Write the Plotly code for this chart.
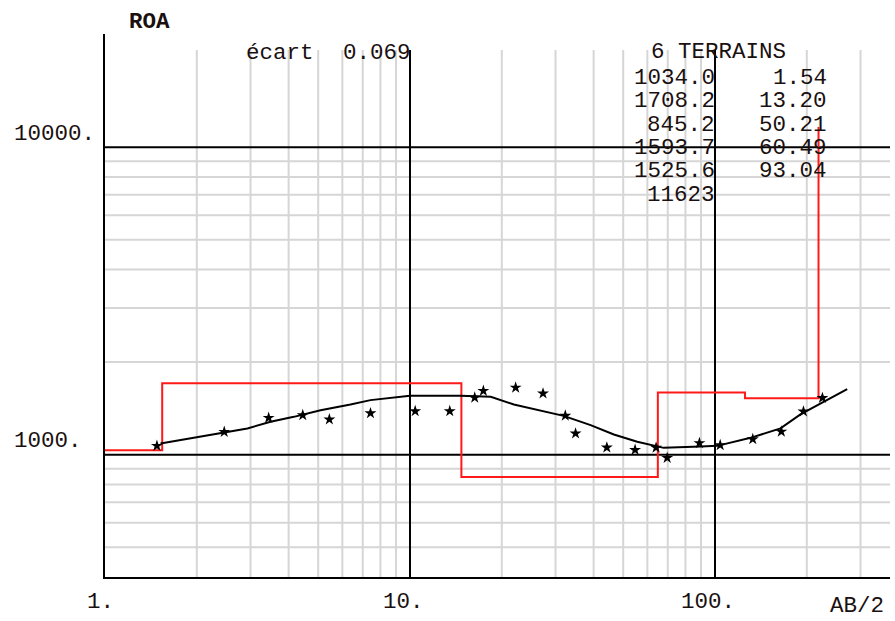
import numpy as np
import plotly.graph_objects as go

# Field sounding: half electrode spacing AB/2 (m) and apparent resistivity (ohm.m)
ab2 = [1.48, 2.46, 3.44, 4.45, 5.44, 7.42, 10.4, 13.5, 16.3, 17.4, 22.2, 27.3,
       32.3, 34.9, 44.2, 54.7, 64.1, 69.7, 88.9, 104, 133, 165, 195, 225]
rho_a = [1068, 1186, 1317, 1344, 1302, 1364, 1385, 1385, 1532, 1612, 1652, 1581,
         1339, 1172, 1055, 1036, 1054, 976, 1090, 1074, 1123, 1188, 1382, 1529]

# Response curve of the fitted model
fit_ab2 = [1.52, 2.0, 2.45, 2.93, 3.49, 4.16, 5.09, 5.49, 6.38, 7.42, 8.2, 9.3,
           10.0, 14.6, 18.4, 21.9, 26.8, 31.9, 39.1, 46.6, 55.6, 64.6, 67.9,
           89.7, 101.7, 130.8, 164, 190.6, 221.8, 271.3]
fit_rho = [1087, 1137, 1181, 1217, 1279, 1327, 1395, 1413, 1456, 1504, 1523, 1545,
           1553, 1553, 1542, 1456, 1395, 1337, 1247, 1163, 1101, 1064, 1052,
           1062, 1068, 1134, 1217, 1351, 1467, 1633]

# Layered model: resistivities and thicknesses
layer_res = [1034.0, 1708.2, 845.2, 1593.7, 1525.6, 11623]
layer_thk = [1.54, 13.20, 50.21, 60.49, 93.04]
ecart = 0.069

# Axis labels and grid values
x_major = [1, 10, 100]
x_major_text = ["1.", "10.", "100."]
y_major = [1000, 10000]
y_major_text = ["1000.", "10000."]
x_minor = [m * d for d in (1, 10, 100) for m in range(2, 10) if m * d < 376]
y_minor = [m * d for d in (100, 1000) for m in range(2, 10) if m * d > 400]

# plot-area geometry (pixels)
W, H = 895, 621
ML, MR, MT, MB = 105, 5, 34, 44
XR = [0.0, (W - ML - MR) / 305.0]
YR = [np.log10(400), np.log10(400) + (H - MT - MB) / 307.5]
X_MIN, X_MAX = 10 ** XR[0], 10 ** XR[1]
Y_MIN = 10 ** YR[0]
GRID_TOP = 2.07e4

FONT = "Liberation Mono"
FS = 22.5
TXT = "#1a1010"


def px(x):
    return (x - ML) / (W - ML - MR)


def py(y):
    return (H - MB - y) / (H - MT - MB)


def segs_v(xs, y0, y1):
    xx, yy = [], []
    for v in xs:
        xx += [v, v, None]
        yy += [y0, y1, None]
    return xx, yy


def segs_h(ys, x0, x1):
    xx, yy = [], []
    for v in ys:
        xx += [x0, x1, None]
        yy += [v, v, None]
    return xx, yy


fig = go.Figure()

# light grid
gx, gy = segs_v(x_minor, Y_MIN, GRID_TOP)
fig.add_trace(go.Scatter(x=gx, y=gy, mode="lines",
                         line=dict(color="#d6d6d6", width=2), hoverinfo="skip"))
gx, gy = segs_h(y_minor, X_MIN, X_MAX)
fig.add_trace(go.Scatter(x=gx, y=gy, mode="lines",
                         line=dict(color="#d6d6d6", width=2), hoverinfo="skip"))

# decade lines
gx, gy = segs_v(x_major[1:], Y_MIN, GRID_TOP)
fig.add_trace(go.Scatter(x=gx, y=gy, mode="lines",
                         line=dict(color="black", width=2), hoverinfo="skip"))
gx, gy = segs_h(y_major, X_MIN, X_MAX)
fig.add_trace(go.Scatter(x=gx, y=gy, mode="lines",
                         line=dict(color="black", width=2), hoverinfo="skip"))

# model as a step profile
depths = np.cumsum(layer_thk)
sx, sy = [X_MIN], [layer_res[0]]
for i, d in enumerate(depths):
    sx += [d, d]
    sy += [layer_res[i], layer_res[i + 1]]
fig.add_trace(go.Scatter(x=sx, y=sy, mode="lines",
                         line=dict(color="#ff1a1a", width=2), hoverinfo="skip"))

# fitted curve
fig.add_trace(go.Scatter(x=fit_ab2, y=fit_rho, mode="lines",
                         line=dict(color="black", width=2), hoverinfo="skip"))

# measured points
fig.add_trace(go.Scatter(x=ab2, y=rho_a, mode="markers",
                         marker=dict(symbol="star", size=9, color="black",
                                     line=dict(width=0)),
                         hoverinfo="skip"))

ann = []


def label(text, x, y, xanchor="left", yanchor="middle", bold=False):
    t = f"<b>{text}</b>" if bold else text
    ann.append(dict(text=t, x=px(x), y=py(y), xref="paper", yref="paper",
                    xanchor=xanchor, yanchor=yanchor, showarrow=False,
                    font=dict(family=FONT, size=FS, color=TXT)))


label("ROA", 127, 22, bold=True)
label("AB/2", 828, 621, yanchor="bottom")
label(y_major_text[1], 12, 134)
label(y_major_text[0], 12, 441)
for v, t, left in zip(x_major, x_major_text, [85, 381, 679]):
    label(t, left, 602)

label("écart", 244, 53)
label(f"{ecart:.3f}", 413, 53, xanchor="right")
label(f"{len(layer_res)} TERRAINS", 649, 52)
rows_y = [78, 101.5, 125, 148, 171.5, 195]
for i, r in enumerate(layer_res):
    txt = f"{r:.1f}" if i < len(layer_res) - 1 else f"{r:.0f}"
    label(txt, 717, rows_y[i], xanchor="right")
for i, t in enumerate(layer_thk):
    label(f"{t:.2f}", 829, rows_y[i], xanchor="right")

fig.update_layout(
    width=W, height=H,
    margin=dict(l=ML, r=MR, t=MT, b=MB),
    paper_bgcolor="white", plot_bgcolor="white",
    showlegend=False,
    annotations=ann,
    xaxis=dict(type="log", range=XR, showgrid=False, zeroline=False,
               showticklabels=False, ticks="", showline=True,
               linecolor="black", linewidth=2, mirror=False),
    yaxis=dict(type="log", range=YR, showgrid=False, zeroline=False,
               showticklabels=False, ticks="", showline=True,
               linecolor="black", linewidth=2, mirror=False),
)

fig.write_html("out.html")
